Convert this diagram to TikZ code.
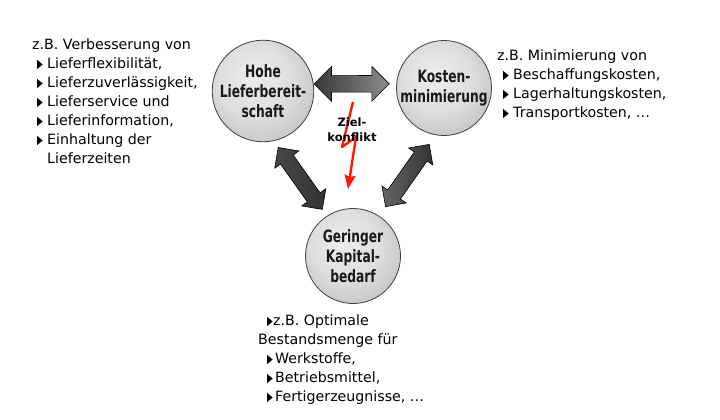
\documentclass[tikz,border=0pt]{standalone}
\usepackage{fontspec}
\setmainfont{DejaVu Sans}
\newfontfamily\kreisfont[FakeStretch=0.72]{DejaVu Sans}
\usetikzlibrary{shapes.arrows,arrows.meta}
\pgfdeclareradialshading{kugel}{\pgfpoint{-6bp}{8bp}}{%
  color(0bp)=(black!7); color(18bp)=(black!13); color(40bp)=(black!30); color(50bp)=(black!40)}
\newcommand{\pkt}[1][10pt]{\makebox[#1][l]{\tikz[baseline=0pt]\fill (0pt,0pt) -- (0pt,9pt) -- (5.5pt,4.5pt) -- cycle;}}

\begin{document}
\begin{tikzpicture}[x=1pt,y=-1pt,
    kreis/.style={circle, draw=black!75, line width=0.8pt, minimum size=95pt, inner sep=0pt,
      shading=kugel, align=center, text=black!90,
      font=\kreisfont\bfseries\fontsize{17}{20}\selectfont},
    pfeil/.style={double arrow, draw=black, line width=0.6pt, inner sep=8pt, sloped,
      double arrow head extend=9pt, minimum height=75pt},
    textblock/.style={anchor=north west, inner sep=0pt, align=left,
      font=\fontsize{14.2}{19}\selectfont},
    blitz/.style={draw=red!80!orange, line width=2.4pt, line join=round,
      -{Stealth[length=14pt,width=11pt,inset=2pt]}},
    ziel/.style={align=center, inner sep=0pt, font=\bfseries\fontsize{11.5}{15}\selectfont}]
\useasboundingbox (0,0) rectangle (720,420);

% Zieldreieck
\node[kreis] (hohe) at (263,91) {Hohe\\Lieferbereit-\\schaft};
\node[kreis] (kosten) at (444,88) {Kosten-\\minimierung};
\node[kreis] (kapital) at (353,256) {Geringer\\Kapital-\\bedarf};

% Pfeile zwischen den Zielen
\path (hohe.8) -- node[pfeil, pos=0.46, left color=black!78, right color=black!45] (pfeilOben) {} (kosten.175);
\path (hohe.-78) -- node[pfeil, inner sep=7.5pt, double arrow head extend=7pt, minimum height=76pt,
  left color=black!72, middle color=black!45, right color=black!80] (pfeilLinks) {} (kapital.123);
\path (kosten.-100) -- node[pfeil, inner sep=7.5pt, double arrow head extend=7pt, minimum height=76pt,
  left color=black!60, middle color=black!45, right color=black!80] (pfeilRechts) {} (kapital.57);

% Zielkonflikt
\coordinate (blitzA) at (353,102);
\coordinate (blitzB) at (342,147);
\coordinate (blitzC) at (356,137);
\coordinate (blitzD) at (348,189);
\draw[blitz] (blitzA) -- (blitzB) -- (blitzC) -- (blitzD);
\node[ziel] (zielkonflikt) at (352,130) {Ziel-\\konflikt};

% Beispiele
\node[textblock] (textLinks) at (32,39) {z.B. Verbesserung von\\
  \hspace*{5pt}\pkt Lieferflexibilität,\\
  \hspace*{5pt}\pkt Lieferzuverlässigkeit,\\
  \hspace*{5pt}\pkt Lieferservice und\\
  \hspace*{5pt}\pkt Lieferinformation,\\
  \hspace*{5pt}\pkt Einhaltung der\\
  \hspace*{15pt}Lieferzeiten};
\node[textblock] (textRechts) at (497,50) {z.B. Minimierung von\\
  \hspace*{6pt}\pkt Beschaffungskosten,\\
  \hspace*{6pt}\pkt Lagerhaltungskosten,\\
  \hspace*{6pt}\pkt Transportkosten, \dots};
\node[textblock] (textUnten) at (258,315) {\hspace*{9pt}\pkt[6pt]z.B. Optimale\\
  Bestandsmenge für\\
  \hspace*{9pt}\pkt[8pt]Werkstoffe,\\
  \hspace*{9pt}\pkt[8pt]Betriebsmittel,\\
  \hspace*{9pt}\pkt[8pt]Fertigerzeugnisse, \dots};
\end{tikzpicture}
\end{document}
